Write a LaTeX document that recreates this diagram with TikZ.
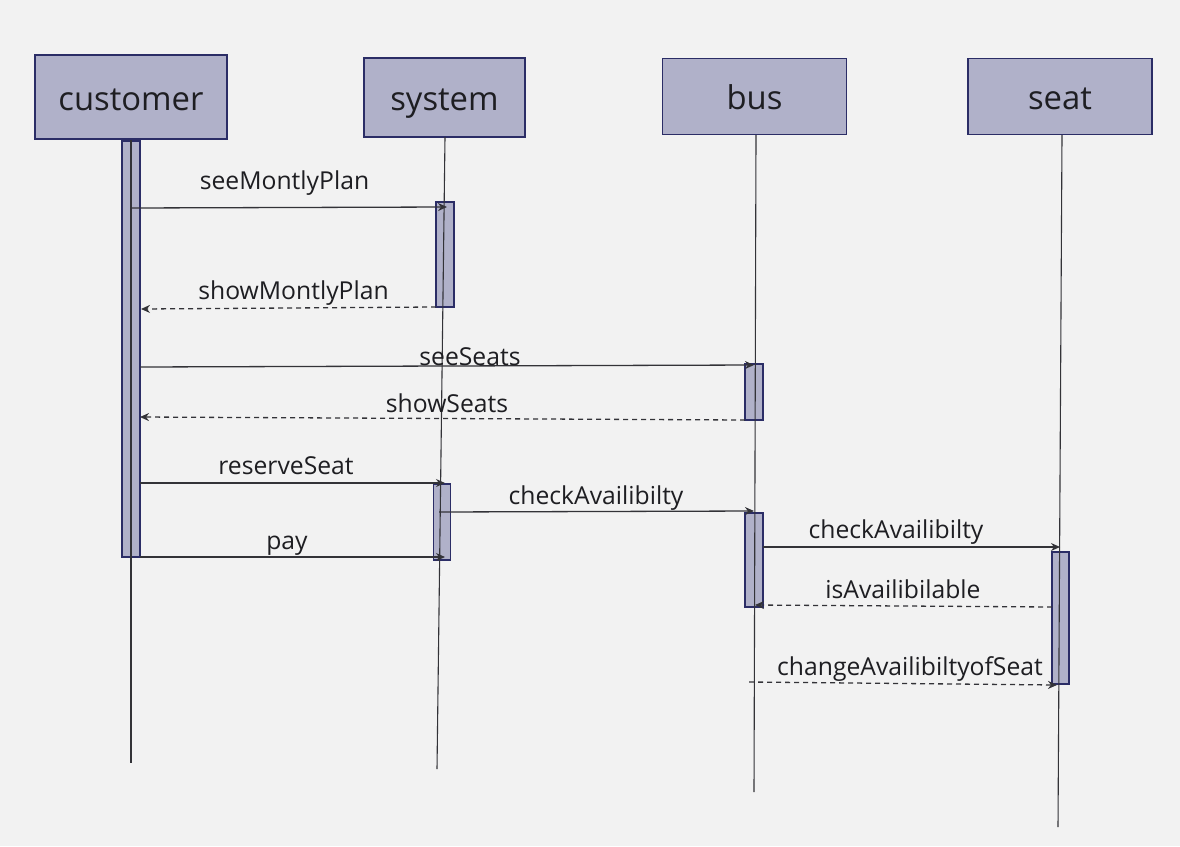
\documentclass[tikz,border=0pt]{standalone}
\usepackage{fontspec}
\setmainfont{Open Sans}
\usetikzlibrary{arrows.meta}
\definecolor{bg}{HTML}{F2F2F2}
\definecolor{boxfill}{HTML}{B0B1C9}
\definecolor{boxline}{HTML}{2B2D66}
\definecolor{ink}{HTML}{333338}
\definecolor{txt}{HTML}{1E1E22}
\tikzset{
  hdr/.style={draw=boxline, fill=boxfill, line width=1.5pt, inner sep=0pt,
    text=txt, font=\fontsize{32.8}{38}\selectfont, text height=26pt, text depth=0pt},
  actbar/.style={draw=boxline, fill=boxfill, line width=1.2pt, inner sep=0pt, minimum width=18pt},
  life/.style={draw=ink, line width=1.1pt},
  msg/.style={draw=ink, line width=1.3pt, -{Stealth[length=9pt,width=8pt]}},
  ret/.style={msg, dash pattern=on 5pt off 4pt},
  lbl/.style={text=txt, font=\fontsize{24.7}{29}\selectfont, anchor=base, inner sep=0pt}
}
\begin{document}
\begin{tikzpicture}[x=1pt,y=-1pt]
\fill[bg] (0,0) rectangle (1180,846);
\useasboundingbox (0,0) rectangle (1180,846);
% headers
\node[hdr, minimum width=192pt, minimum height=84pt] (customer) at (131,97) {customer};
\node[hdr, minimum width=161pt, minimum height=79pt] (system) at (444.5,97.5) {system};
\node[hdr, minimum width=184pt, minimum height=76pt] (bus) at (754.5,96.5) {bus};
\node[hdr, minimum width=184pt, minimum height=76pt] (seat) at (1060,96.5) {seat};
% activation bars
\node[actbar, minimum height=416pt] (cbar) at (131,349) {};
\node[actbar, minimum height=105pt] (sbar1) at (445,254.5) {};
\node[actbar, minimum height=56pt] (bbar1) at (754,392) {};
\node[actbar, minimum width=17.5pt, minimum height=76pt] (sbar2) at (442,522) {};
\node[actbar, minimum height=94pt] (bbar2) at (754,560) {};
\node[actbar, minimum width=17pt, minimum height=132pt] (tbar) at (1060.5,618) {};
% lifelines
\coordinate (cEnd) at (131,763);
\coordinate (sTop) at (445,137);
\coordinate (sEnd) at (437,769);
\coordinate (bTop) at (756,135);
\coordinate (bEnd) at (754,792);
\coordinate (tTop) at (1062,135);
\coordinate (tEnd) at (1058,827);
\draw[life] (customer.south) -- (cEnd);
\draw[life] (sTop) -- (sEnd);
\draw[life] (bTop) -- (bEnd);
\draw[life] (tTop) -- (tEnd);
% message endpoints
\coordinate (a1) at (131,208); \coordinate (b1) at (447,207);
\coordinate (a2) at (436,307); \coordinate (b2) at (141,309);
\coordinate (a3) at (140,367); \coordinate (b3) at (754,365);
\coordinate (a4) at (745,420); \coordinate (b4) at (140,417);
\coordinate (a5) at (140,483); \coordinate (b5) at (445,483);
\coordinate (a6) at (439,512); \coordinate (b6) at (754,511);
\coordinate (a7) at (140,557); \coordinate (b7) at (445,557);
\coordinate (a8) at (763,547); \coordinate (b8) at (1060,547);
\coordinate (a9) at (1052,607); \coordinate (b9) at (755,605);
\coordinate (a10) at (749,682); \coordinate (b10) at (1057,685);
\draw[msg] (a1) -- (b1);
\draw[ret] (a2) -- (b2);
\draw[msg] (a3) -- (b3);
\draw[ret] (a4) -- (b4);
\draw[msg] (a5) -- (b5);
\draw[msg] (a6) -- (b6);
\draw[msg] (a7) -- (b7);
\draw[msg] (a8) -- (b8);
\draw[ret] (a9) -- (b9);
\draw[ret] (a10) -- (b10);
% labels
\node[lbl] (l1) at (284.5,189) {seeMontlyPlan};
\node[lbl] (l2) at (293.5,299) {showMontlyPlan};
\node[lbl] (l3) at (470,365) {seeSeats};
\node[lbl] (l4) at (447,412) {showSeats};
\node[lbl] (l5) at (286,474) {reserveSeat};
\node[lbl] (l6) at (596,504) {checkAvailibilty};
\node[lbl] (l7) at (287,549) {pay};
\node[lbl] (l8) at (896,538) {checkAvailibilty};
\node[lbl] (l9) at (903,598) {isAvailibilable};
\node[lbl] (l10) at (910,675) {changeAvailibiltyofSeat};
\end{tikzpicture}
\end{document}
